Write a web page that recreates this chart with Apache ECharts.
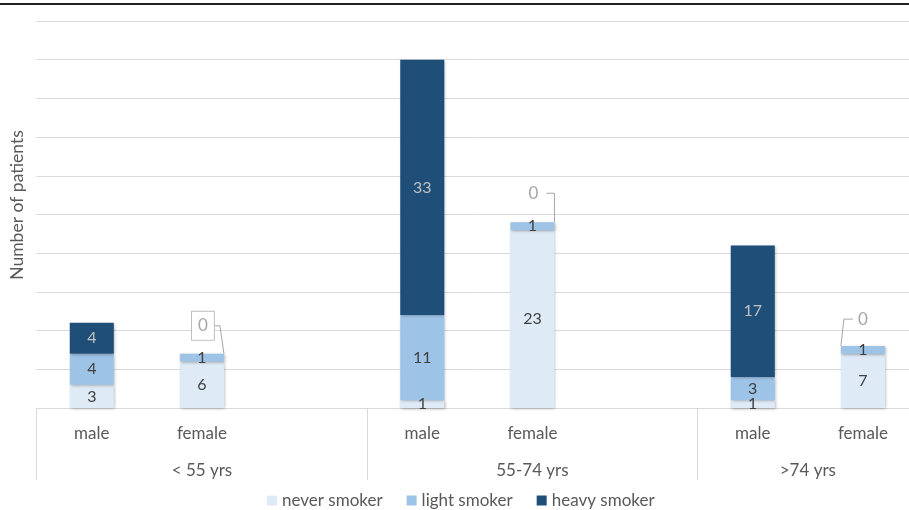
<!DOCTYPE html>
<html>
<head>
<meta charset="utf-8">
<script src="https://cdn.jsdelivr.net/npm/echarts@6/dist/echarts.min.js"></script>
<style>html,body{margin:0;padding:0;background:#fff}#main{width:909px;height:510px}</style>
</head>
<body>
<div id="main"></div>
<script>
// ---- data ----
const categories = ['male', 'female', '', 'male', 'female', '', 'male', 'female'];
const neverSmoker = [3, 6, null, 1, 23, null, 1, 7];
const lightSmoker = [4, 1, null, 11, 1, null, 3, 1];
const heavySmoker = [4, 0, null, 33, 0, null, 17, 0];
const groups = ['< 55 yrs', '55-74 yrs', '>74 yrs'];
const groupSpans = [3, 3, 2];
const seriesNames = ['never smoker', 'light smoker', 'heavy smoker'];
const yMin = 0, yMax = 50, yStep = 5;

// ---- styling ----
const FONT = 'Lato, "Open Sans", sans-serif';
const TXT = '#595959';
const GRID = '#d9d9d9';
const colors = ['#DEEAF6', '#9DC3E6', '#1F4E79'];
const labelColors = ['#404040', '#404040', '#c0c0c0'];

// group label slots (half-category resolution, boundaryGap false)
const groupSlots = new Array(categories.length * 2 + 1).fill('');
let start = 0;
const groupStarts = [];
groups.forEach((g, i) => {
  groupSlots[Math.round((start + groupSpans[i] / 2) * 2)] = g;
  groupStarts.push(start);
  start += groupSpans[i];
});

// zero-value callouts (heavy smoker = 0)
const zeroCallouts = [];
heavySmoker.forEach((v, i) => {
  if (v === 0) zeroCallouts.push([i, (neverSmoker[i] || 0) + (lightSmoker[i] || 0), v]);
});
const calloutStyle = {
  1: {dx: 1, dy: -28, side: 1, gap: 11, arm: 6, boxed: true},
  4: {dx: 1, dy: -29, side: 1, gap: 13, arm: 8, boxed: false},
  7: {dx: 0, dy: -27, side: -1, gap: 10, arm: 9, boxed: false}
};

const shadow = {shadowColor: 'rgba(0,0,0,0.3)', shadowBlur: 3, shadowOffsetX: 1, shadowOffsetY: 1};

const barSeries = [neverSmoker, lightSmoker, heavySmoker].map((arr, k) => ({
  name: seriesNames[k],
  type: 'bar',
  stack: 'total',
  data: arr,
  barCategoryGap: '60%',
  itemStyle: Object.assign({color: colors[k]}, shadow),
  label: {
    show: true,
    position: 'inside',
    fontFamily: FONT,
    fontSize: 16,
    color: labelColors[k],
    formatter: p => (p.value ? String(p.value) : '')
  },
  emphasis: {disabled: true}
}));

const calloutSeries = {
  type: 'custom',
  name: 'zero',
  data: zeroCallouts,
  z: 10,
  silent: true,
  encode: {x: 0, y: 1},
  renderItem: function (params, api) {
    const idx = api.value(0);
    const top = api.coord([idx, api.value(1)]);
    const halfBar = api.size([1, 0])[0] * 0.2;
    const c = calloutStyle[idx];
    const lx = top[0] + c.dx, ly = top[1] + c.dy;
    const s = c.side;
    const pts = [[lx + s * c.gap, ly], [lx + s * (c.gap + c.arm), ly], [top[0] + s * halfBar, top[1]]];
    const textStyle = {
      text: String(api.value(2)),
      fill: '#a6a6a6',
      font: '17px ' + FONT,
      align: 'center',
      verticalAlign: 'middle'
    };
    if (c.boxed) {
      Object.assign(textStyle, {borderColor: '#bfbfbf', borderWidth: 1, padding: [6, 6, 5, 6], backgroundColor: '#fff'});
    }
    return {
      type: 'group',
      children: [
        {type: 'polyline', shape: {points: pts}, style: {stroke: '#a6a6a6', lineWidth: 1, fill: null}},
        {type: 'text', x: lx, y: ly, style: textStyle}
      ]
    };
  }
};

const chart = echarts.init(document.getElementById('main'), null, {renderer: 'canvas'});
chart.setOption({
  animation: false,
  backgroundColor: '#fff',
  textStyle: {fontFamily: FONT},
  graphic: [{
    type: 'line', shape: {x1: 0, y1: 4, x2: 909, y2: 4},
    style: {stroke: '#222', lineWidth: 2}, z: 100
  }],
  grid: {left: 36.7, top: 21, width: 881.3, height: 387, containLabel: false, outerBoundsMode: 'none'},
  legend: {
    data: seriesNames,
    left: 267,
    top: 492,
    padding: 0,
    icon: 'rect',
    itemWidth: 10,
    itemHeight: 10,
    itemGap: 24,
    textStyle: {fontFamily: FONT, fontSize: 17, color: TXT}
  },
  xAxis: [{
    type: 'category',
    data: categories,
    axisLine: {lineStyle: {color: GRID}},
    axisTick: {show: true, interval: i => groupStarts.indexOf(i) >= 0, length: 72, lineStyle: {color: GRID}},
    axisLabel: {interval: 0, margin: 17, fontFamily: FONT, fontSize: 17, color: TXT},
    splitLine: {show: false}
  }, {
    type: 'category',
    position: 'bottom',
    boundaryGap: false,
    data: groupSlots,
    axisLine: {show: false},
    axisTick: {show: false},
    axisLabel: {interval: 0, margin: 54, fontFamily: FONT, fontSize: 17, color: TXT},
    splitLine: {show: false}
  }],
  yAxis: {
    type: 'value',
    min: yMin, max: yMax, interval: yStep,
    axisLine: {show: false},
    axisTick: {show: false},
    axisLabel: {show: false},
    splitLine: {lineStyle: {color: GRID, width: 1}},
    name: 'Number of patients',
    nameLocation: 'middle',
    nameGap: 10,
    nameTextStyle: {fontFamily: FONT, fontSize: 17.5, color: TXT, padding: [0, 0, 0, 19]}
  },
  series: barSeries.concat([calloutSeries])
});
</script>
</body>
</html>
